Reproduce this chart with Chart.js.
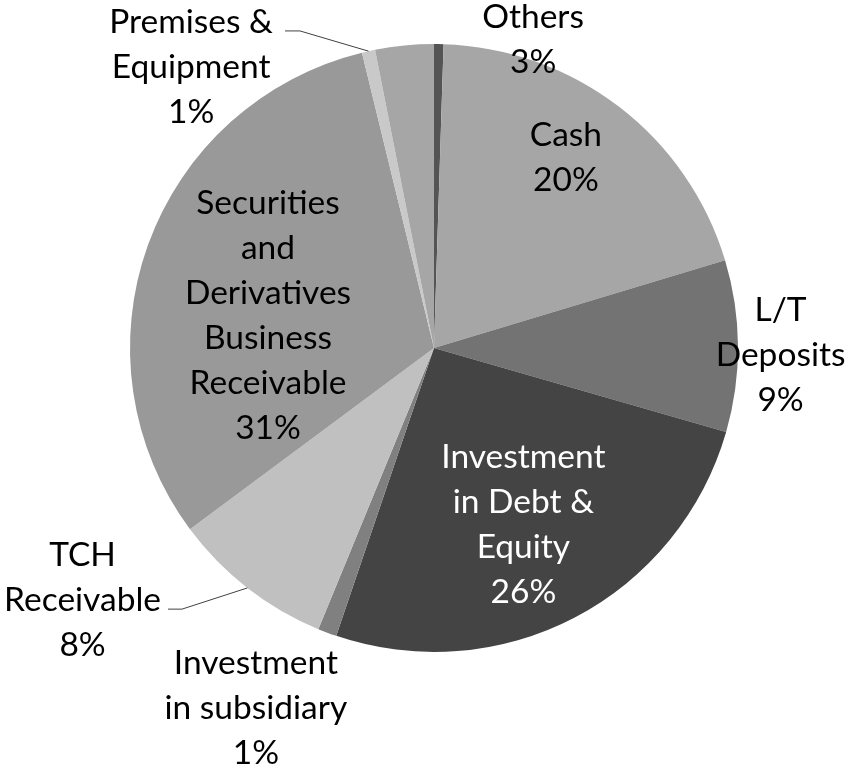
<!DOCTYPE html>
<html>

<head>
    <title>Assets breakdown pie</title>
    <script src="https://cdn.jsdelivr.net/npm/chart.js"></script>
    <style>
        body { margin: 0; background: #ffffff; }
        #wrap { width: 845px; height: 765px; }
    </style>
</head>

<body>

    <div id="wrap"><canvas id="myChart" width="845" height="765"></canvas></div>

    <script>
        // data (share of total, %)
        var categories = ['', 'Cash', 'L/T Deposits', 'Investment in Debt & Equity', 'Investment in subsidiary',
            'TCH Receivable', 'Securities and Derivatives Business Receivable', 'Premises & Equipment', 'Others'];
        var values = [0.5, 19.8, 9.1, 25.7, 1.0, 8.6, 31.3, 0.7, 3.1];
        var pctLabels = ['', '20%', '9%', '26%', '1%', '8%', '31%', '1%', '3%'];

        var sliceColors = ['#545454', '#a6a6a6', '#737373', '#444444', '#808080',
            '#c0c0c0', '#999999', '#c9c9c9', '#a6a6a6'];

        // label layout: line breaks + centre offset as a fraction of the radius
        var labelCfg = [
            null,
            { lines: ['Cash'], dx: 0.434, dy: -0.625 },
            { lines: ['L/T', 'Deposits'], dx: 1.14, dy: 0.023 },
            { lines: ['Investment', 'in Debt &', 'Equity'], dx: 0.294, dy: 0.582, color: '#ffffff' },
            { lines: ['Investment', 'in subsidiary'], dx: -0.586, dy: 1.184 },
            { lines: ['TCH', 'Receivable'], dx: -1.156, dy: 0.829, leader: [[-0.829, 0.859], [-0.875, 0.859]] },
            { lines: ['Securities', 'and', 'Derivatives', 'Business', 'Receivable'], dx: -0.546, dy: -0.107 },
            { lines: ['Premises &', 'Equipment'], dx: -0.799, dy: -0.924, leader: [[-0.441, -1.043], [-0.49, -1.043]] },
            { lines: ['Others'], dx: 0.326, dy: -1.013 }
        ];

        var FONT = '33.5px Lato';
        var LINE_H = 45;

        var ctx = document.getElementById('myChart').getContext('2d');

        var myChart = new Chart(ctx, {
            type: 'pie',
            data: {
                labels: categories,
                datasets: [{
                    data: values,
                    backgroundColor: sliceColors,
                    borderWidth: 0
                }]
            },
            options: {
                responsive: false,
                animation: false,
                layout: {
                    padding: { top: 44, bottom: 113, left: 130, right: 107 }
                },
                plugins: {
                    legend: { display: false },
                    tooltip: { enabled: false }
                }
            },
            plugins: [{
                id: 'sliceLabels',
                afterDraw(chart) {
                    var c = chart.ctx;
                    var arcs = chart.getDatasetMeta(0).data;
                    c.save();
                    arcs.forEach(function (arc, i) {
                        var cfg = labelCfg[i];
                        if (!cfg) return;
                        var r = arc.outerRadius;
                        var cx = arc.x, cy = arc.y;

                        // leader line from slice edge to the label
                        if (cfg.leader) {
                            var mid = (arc.startAngle + arc.endAngle) / 2;
                            c.beginPath();
                            c.strokeStyle = '#404040';
                            c.lineWidth = 1;
                            c.moveTo(cx + Math.cos(mid) * r, cy + Math.sin(mid) * r);
                            cfg.leader.forEach(function (p) {
                                c.lineTo(cx + p[0] * r, cy + p[1] * r);
                            });
                            c.stroke();
                        }

                        var lines = cfg.lines.concat([pctLabels[i]]);
                        var lx = cx + cfg.dx * r;
                        var ly = cy + cfg.dy * r;
                        c.font = FONT;
                        c.fillStyle = cfg.color || '#000000';
                        c.textAlign = 'center';
                        c.textBaseline = 'middle';
                        lines.forEach(function (t, k) {
                            c.fillText(t, lx, ly + (k - (lines.length - 1) / 2) * LINE_H);
                        });
                    });
                    c.restore();
                }
            }]
        });
    </script>

</body>

</html>
